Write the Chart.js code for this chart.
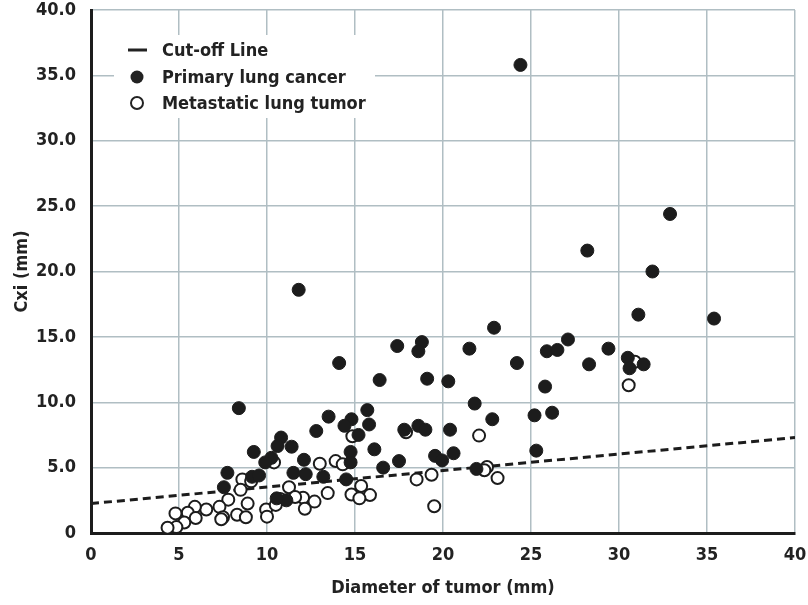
<!DOCTYPE html>
<html>
<head>
<meta charset="utf-8">
<script src="https://cdn.jsdelivr.net/npm/chart.js@4.4.0/dist/chart.umd.min.js"></script>
<style>
  html, body { margin: 0; padding: 0; background: #fff; }
  #wrap { width: 808px; height: 605px; }
</style>
</head>
<body>
<div id="wrap"><canvas id="scatterChart" width="808" height="605"></canvas></div>
<script>
// Primary lung cancer (filled)
var primaryX = [24.4, 32.9, 28.2, 31.9, 35.4, 31.1, 11.8, 22.9, 24.2, 25.9, 26.5, 27.1, 29.4, 28.3, 30.5, 30.6, 31.4, 25.8,
  17.4, 18.8, 18.6, 21.5, 14.1, 16.4, 19.1, 20.3, 21.8, 22.8, 25.2, 26.2, 15.7, 13.5, 12.8, 14.8, 14.4, 15.8, 15.2,
  17.8, 18.6, 19.0, 20.4, 16.1, 14.75, 14.75, 11.4, 10.8, 12.1, 11.5, 12.2, 13.2, 14.5, 16.6, 17.5, 19.55, 19.95,
  20.6, 21.9, 11.1, 25.3, 8.4, 10.6, 9.25, 10.25, 9.9, 7.75, 9.15, 9.55, 7.55, 10.55];
var primaryY = [35.8, 24.4, 21.6, 20.0, 16.4, 16.7, 18.6, 15.7, 13.0, 13.9, 14.0, 14.8, 14.1, 12.9, 13.4, 12.6, 12.9, 11.2,
  14.3, 14.6, 13.9, 14.1, 13.0, 11.7, 11.8, 11.6, 9.9, 8.7, 9.0, 9.2, 9.4, 8.9, 7.8, 8.7, 8.2, 8.3, 7.5,
  7.9, 8.2, 7.9, 7.9, 6.4, 6.2, 5.4, 6.6, 7.3, 5.6, 4.6, 4.5, 4.3, 4.1, 5.0, 5.5, 5.9, 5.55,
  6.1, 4.9, 2.5, 6.3, 9.55, 6.65, 6.2, 5.75, 5.4, 4.6, 4.3, 4.4, 3.5, 2.65];

// Metastatic lung tumor (open)
var metaX = [30.55, 30.9, 22.05, 13.0, 13.9, 14.3, 11.25, 10.75, 13.45, 12.05, 12.7, 12.15, 14.8, 15.35, 15.85, 15.25,
  18.5, 19.35, 19.5, 22.5, 22.35, 23.1, 14.85, 17.9, 8.6, 9.1, 8.5, 7.8, 7.3, 7.5, 7.4, 6.55, 5.9, 5.5, 5.95,
  4.8, 5.3, 4.85, 4.35, 8.3, 8.8, 8.9, 9.95, 10.0, 10.5, 11.6, 10.4];
var metaY = [11.3, 13.1, 7.45, 5.3, 5.5, 5.25, 3.5, 2.6, 3.05, 2.7, 2.4, 1.85, 2.95, 3.6, 2.9, 2.65,
  4.1, 4.45, 2.05, 5.05, 4.8, 4.2, 7.4, 7.7, 4.1, 3.95, 3.3, 2.55, 2.0, 1.2, 1.05, 1.8, 2.0, 1.55, 1.15,
  1.5, 0.8, 0.45, 0.4, 1.4, 1.2, 2.25, 1.8, 1.25, 2.15, 2.75, 5.4];

// Cut-off line ends
var cutoffX = [0, 40];
var cutoffY = [2.25, 7.3];

var xTicks = [0, 5, 10, 15, 20, 25, 30, 35, 40];
var yTicks = [0, 5, 10, 15, 20, 25, 30, 35, 40];

var legendItems = ['Cut-off Line', 'Primary lung cancer', 'Metastatic lung tumor'];

var FONT = "'DejaVu Sans Condensed', 'DejaVu Sans', sans-serif";
var GRID = '#b0bec3';

function toPoints(xs, ys) {
  var out = [];
  for (var i = 0; i < xs.length; i++) out.push({x: xs[i], y: ys[i]});
  return out;
}

// legend drawn inside the plot, over the grid but under the points
var boxLegend = {
  id: 'boxLegend',
  beforeDatasetsDraw: function (chart) {
    var ctx = chart.ctx;
    ctx.save();
    ctx.fillStyle = '#fff';
    ctx.fillRect(114, 35, 261, 83);
    ctx.font = 'bold 18px ' + FONT;
    ctx.textBaseline = 'middle';
    ctx.fillStyle = '#222';
    var rows = [50, 77, 103];
    // line sample
    ctx.strokeStyle = '#222';
    ctx.lineWidth = 3;
    ctx.beginPath();
    ctx.moveTo(128, rows[0]);
    ctx.lineTo(147, rows[0]);
    ctx.stroke();
    // filled dot
    ctx.beginPath();
    ctx.arc(137, rows[1], 6.5, 0, Math.PI * 2);
    ctx.fill();
    // open dot
    ctx.lineWidth = 2;
    ctx.beginPath();
    ctx.arc(137, rows[2], 6, 0, Math.PI * 2);
    ctx.stroke();
    for (var i = 0; i < legendItems.length; i++) {
      ctx.fillText(legendItems[i], 162, rows[i] + 1);
    }
    ctx.restore();
  }
};

var ctxS = document.getElementById('scatterChart').getContext('2d');
var myChart = new Chart(ctxS, {
  type: 'scatter',
  data: {
    datasets: [{
      label: legendItems[1],
      data: toPoints(primaryX, primaryY),
      backgroundColor: '#1c1c1c',
      borderColor: '#1c1c1c',
      borderWidth: 1,
      pointRadius: 6.5
    },
    {
      label: legendItems[2],
      data: toPoints(metaX, metaY),
      backgroundColor: '#ffffff',
      borderColor: '#1c1c1c',
      borderWidth: 2,
      pointRadius: 6
    },
    {
      type: 'line',
      label: legendItems[0],
      data: toPoints(cutoffX, cutoffY),
      borderColor: '#1c1c1c',
      borderWidth: 3,
      borderDash: [8, 5],
      pointRadius: 0,
      fill: false
    }]
  },
  options: {
    responsive: false,
    animation: false,
    layout: { padding: { left: 0, right: 13, top: 10, bottom: 0 } },
    plugins: {
      legend: { display: false },
      tooltip: { enabled: false }
    },
    scales: {
      x: {
        type: 'linear',
        min: 0,
        max: 40,
        afterBuildTicks: function (scale) {
          scale.ticks = xTicks.map(function (v) { return {value: v}; });
        },
        afterFit: function (scale) {
          scale.height = 72;
          scale.paddingLeft = 0;
          scale.paddingRight = 0;
        },
        grid: { color: GRID, lineWidth: 1.5, drawTicks: false },
        border: { color: '#1c1c1c', width: 3 },
        ticks: {
          color: '#222',
          padding: 12,
          font: { family: FONT, size: 18, weight: 'bold' }
        },
        title: {
          display: true,
          text: 'Diameter of tumor (mm)',
          color: '#222',
          padding: { top: 0, bottom: 6 },
          font: { family: FONT, size: 18, weight: 'bold' }
        }
      },
      y: {
        type: 'linear',
        min: 0,
        max: 40,
        afterBuildTicks: function (scale) {
          scale.ticks = yTicks.map(function (v) { return {value: v}; });
        },
        afterFit: function (scale) {
          scale.width = 91;
          scale.paddingTop = 0;
          scale.paddingBottom = 0;
        },
        grid: { color: GRID, lineWidth: 1.5, drawTicks: false },
        border: { color: '#1c1c1c', width: 3 },
        ticks: {
          color: '#222',
          padding: 15,
          font: { family: FONT, size: 18, weight: 'bold' },
          callback: function (v) { return v === 0 ? '0' : v.toFixed(1); }
        },
        title: {
          display: true,
          text: 'Cxi (mm)',
          color: '#222',
          padding: { top: 12, bottom: 0 },
          font: { family: FONT, size: 18, weight: 'bold' }
        }
      }
    }
  },
  plugins: [boxLegend]
});
</script>
</body>
</html>
